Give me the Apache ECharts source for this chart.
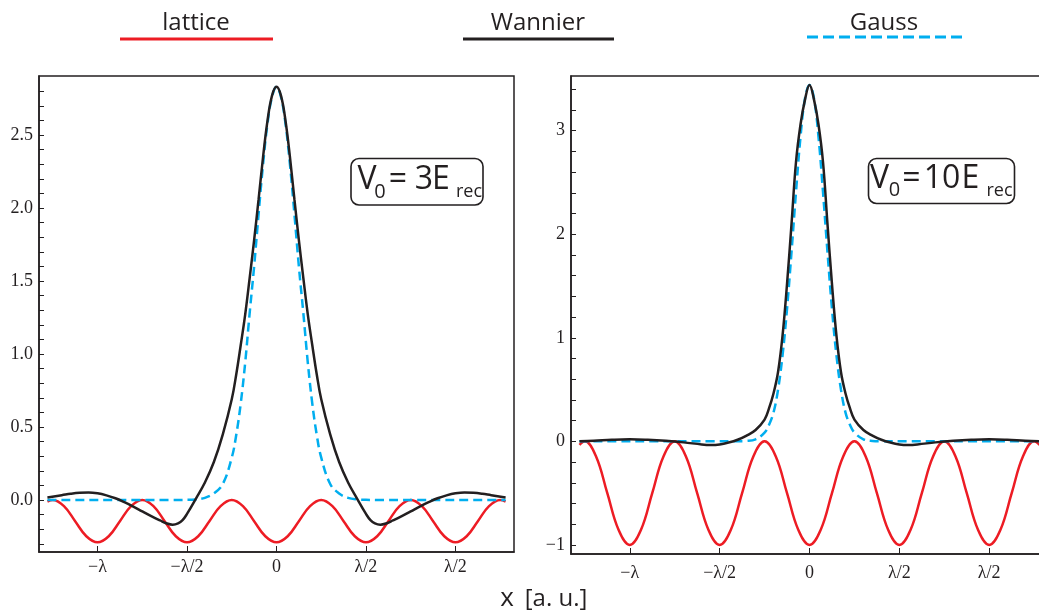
<!DOCTYPE html>
<html>
<head>
<meta charset="utf-8">
<script src="https://cdn.jsdelivr.net/npm/echarts@6/dist/echarts.min.js"></script>
<style>
  html, body { margin: 0; padding: 0; background: #ffffff; }
  #chart { width: 1039px; height: 616px; }
</style>
</head>
<body>
<div id="chart"></div>
<script>
// Position along the lattice, in units of the wavelength λ
const xTickValues = [-1, -0.5, 0, 0.5, 1];
const xTickLabels = ['−λ', '−λ/2', '0', 'λ/2', 'λ/2'];

// Left panel (V0 = 3 Erec) vertical axis
const leftYLabelValues = [0, 0.5, 1, 1.5, 2, 2.5];
const leftYTickValues = [-0.3, -0.2, -0.1, 0, 0.1, 0.2, 0.3, 0.4, 0.5, 0.6, 0.7, 0.8, 0.9, 1, 1.1, 1.2, 1.3, 1.4,
  1.5, 1.6, 1.7, 1.8, 1.9, 2, 2.1, 2.2, 2.3, 2.4, 2.5, 2.6, 2.7, 2.8];

// Right panel (V0 = 10 Erec) vertical axis
const rightYLabelValues = [-1, 0, 1, 2, 3];
const rightYTickValues = [-1, -0.8, -0.6, -0.4, -0.2, 0, 0.2, 0.4, 0.6, 0.8, 1, 1.2, 1.4, 1.6, 1.8, 2, 2.2, 2.4,
  2.6, 2.8, 3, 3.2, 3.4];

// Lattice potential (shared positions for both panels)
const latticeX = [-1.28, -1.25, -1.1875, -1.125, -1.0625, -1, -0.9375, -0.875, -0.8125, -0.75, -0.6875, -0.625,
  -0.5625, -0.5, -0.4375, -0.375, -0.3125, -0.25, -0.1875, -0.125, -0.0625, 0, 0.0625, 0.125, 0.1875, 0.25,
  0.3125, 0.375, 0.4375, 0.5, 0.5625, 0.625, 0.6875, 0.75, 0.8125, 0.875, 0.9375, 1, 1.0625, 1.125, 1.1875,
  1.25, 1.28];
const latticeLeft = [-0.010, 0, -0.042, -0.145, -0.248, -0.29, -0.248, -0.145, -0.042, 0, -0.042, -0.145, -0.248,
  -0.29, -0.248, -0.145, -0.042, 0, -0.042, -0.145, -0.248, -0.29, -0.248, -0.145, -0.042, 0, -0.042, -0.145,
  -0.248, -0.29, -0.248, -0.145, -0.042, 0, -0.042, -0.145, -0.248, -0.29, -0.248, -0.145, -0.042, 0, -0.010];
const latticeRight = [-0.035, 0, -0.146, -0.5, -0.854, -1, -0.854, -0.5, -0.146, 0, -0.146, -0.5, -0.854,
  -1, -0.854, -0.5, -0.146, 0, -0.146, -0.5, -0.854, -1, -0.854, -0.5, -0.146, 0, -0.146, -0.5,
  -0.854, -1, -0.854, -0.5, -0.146, 0, -0.146, -0.5, -0.854, -1, -0.854, -0.5, -0.146, 0, -0.035];

// Wannier function, V0 = 3 Erec
const wannierLeftX = [-1.28, -1.2, -1.15, -1.1, -1.05, -1, -0.95, -0.9, -0.85, -0.8, -0.75, -0.7, -0.65, -0.62,
  -0.58, -0.55, -0.525, -0.5, -0.45, -0.4, -0.35, -0.3, -0.25, -0.225, -0.2, -0.175, -0.15, -0.125, -0.1,
  -0.075, -0.05, -0.025, 0, 0.025, 0.05, 0.075, 0.1, 0.125, 0.15, 0.175, 0.2, 0.225, 0.25, 0.3, 0.35, 0.4,
  0.45, 0.5, 0.525, 0.55, 0.58, 0.62, 0.65, 0.7, 0.75, 0.8, 0.85, 0.9, 0.95, 1, 1.05, 1.1, 1.15, 1.2, 1.28];
const wannierLeft = [0.018, 0.033, 0.043, 0.050, 0.052, 0.046, 0.032, 0.012, -0.015, -0.045, -0.078, -0.110,
  -0.140, -0.157, -0.169, -0.160, -0.138, -0.095, 0.010, 0.12, 0.26, 0.45, 0.69, 0.86, 1.06, 1.27, 1.52, 1.78,
  2.06, 2.35, 2.60, 2.77, 2.83, 2.77, 2.60, 2.35, 2.06, 1.78, 1.52, 1.27, 1.06, 0.86, 0.69, 0.45, 0.26, 0.12,
  0.010, -0.095, -0.138, -0.160, -0.169, -0.157, -0.140, -0.110, -0.078, -0.045, -0.015, 0.012, 0.032, 0.046,
  0.052, 0.050, 0.043, 0.033, 0.018];

// Gaussian approximation, V0 = 3 Erec
const gaussLeftX = [-1.28, -0.5, -0.45, -0.4, -0.35, -0.3, -0.25, -0.225, -0.2, -0.175, -0.15, -0.125, -0.1,
  -0.075, -0.05, -0.025, 0, 0.025, 0.05, 0.075, 0.1, 0.125, 0.15, 0.175, 0.2, 0.225, 0.25, 0.3, 0.35, 0.4,
  0.45, 0.5, 1.28];
const gaussLeft = [0, 0.001, 0.004, 0.015, 0.045, 0.11, 0.29, 0.445, 0.66, 0.94, 1.28, 1.60, 1.96, 2.30, 2.58,
  2.76, 2.83, 2.76, 2.58, 2.30, 1.96, 1.60, 1.28, 0.94, 0.66, 0.445, 0.29, 0.11, 0.045, 0.015, 0.004, 0.001, 0];

// Wannier function, V0 = 10 Erec
const wannierRightX = [-1.28, -1.2, -1.1, -1, -0.9, -0.8, -0.7, -0.6, -0.55, -0.5, -0.45, -0.4, -0.35, -0.3,
  -0.25, -0.225, -0.2, -0.175, -0.15, -0.125, -0.1, -0.075, -0.05, -0.025, 0, 0.025, 0.05, 0.075, 0.1, 0.125,
  0.15, 0.175, 0.2, 0.225, 0.25, 0.3, 0.35, 0.4, 0.45, 0.5, 0.55, 0.6, 0.7, 0.8, 0.9, 1, 1.1, 1.2, 1.28];
const wannierRight = [0, 0.005, 0.015, 0.02, 0.015, 0.005, -0.01, -0.03, -0.035, -0.03, -0.012, 0.015, 0.055,
  0.11, 0.21, 0.32, 0.465, 0.67, 1.02, 1.52, 2.10, 2.70, 3.06, 3.30, 3.44, 3.30, 3.06, 2.70, 2.10, 1.52, 1.02,
  0.67, 0.465, 0.32, 0.21, 0.11, 0.055, 0.015, -0.012, -0.03, -0.035, -0.03, -0.01, 0.005, 0.015, 0.02, 0.015,
  0.005, 0];

// Gaussian approximation, V0 = 10 Erec
const gaussRightX = [-1.28, -0.45, -0.4, -0.35, -0.3, -0.25, -0.225, -0.2, -0.175, -0.15, -0.125, -0.1, -0.075,
  -0.05, -0.025, 0, 0.025, 0.05, 0.075, 0.1, 0.125, 0.15, 0.175, 0.2, 0.225, 0.25, 0.3, 0.35, 0.4, 0.45, 1.28];
const gaussRight = [0, 0, 0.001, 0.004, 0.02, 0.085, 0.16, 0.28, 0.50, 0.83, 1.28, 1.83, 2.41, 2.94, 3.31, 3.44,
  3.31, 2.94, 2.41, 1.83, 1.28, 0.83, 0.50, 0.28, 0.16, 0.085, 0.02, 0.004, 0.001, 0, 0];

const INK = '#231f20';
const RED = '#ed1c24';
const CYAN = '#00aeef';
const SERIF = '"Liberation Serif", "DejaVu Serif", serif';
const SANS = '"Open Sans", "Noto Sans", sans-serif';

const pairs = (xs, ys) => xs.map((x, i) => [x, ys[i]]);

const xLabel = v => {
  const i = xTickValues.findIndex(t => Math.abs(t - v) < 1e-9);
  return i >= 0 ? xTickLabels[i] : '';
};

function xAxisFor(gridIndex, labelMargin) {
  return {
    type: 'value', gridIndex, min: -1.327, max: 1.327,
    axisLine: { show: true, onZero: false, lineStyle: { color: INK, width: 1.5 } },
    axisTick: { show: true, inside: true, length: 6, customValues: xTickValues, lineStyle: { color: INK, width: 1 } },
    axisLabel: { customValues: xTickValues, formatter: xLabel, margin: labelMargin,
      fontFamily: SERIF, fontSize: 18, color: INK },
    splitLine: { show: false }
  };
}

function yAxisFor(gridIndex, min, max, labels, ticks, fmt) {
  return {
    type: 'value', gridIndex, min, max,
    axisLine: { show: true, onZero: false, lineStyle: { color: INK, width: 1.5 } },
    axisTick: { show: true, inside: true, length: 5, customValues: ticks, lineStyle: { color: INK, width: 1 } },
    axisLabel: { customValues: labels, formatter: fmt, margin: 6,
      fontFamily: SERIF, fontSize: 18, color: INK },
    splitLine: { show: false }
  };
}

function curve(name, xi, xs, ys, color, width, dash, z) {
  return {
    name, type: 'line', xAxisIndex: xi, yAxisIndex: xi,
    data: pairs(xs, ys), showSymbol: false, smooth: 0.4, silent: true, z,
    lineStyle: { color, width, type: dash ? [9, 5] : 'solid', cap: 'butt' }
  };
}

// Text helper for the legend and the panel annotations
function txt(text, x, y, size, align) {
  return { type: 'text', x, y, silent: true, z: 100,
    style: { text, fontFamily: SANS, fontSize: size, fill: INK, align: align || 'center', verticalAlign: 'middle' } };
}

function box(x, y, w, h) {
  return { type: 'rect', silent: true, z: 99, shape: { x, y, width: w, height: h, r: 8 },
    style: { fill: '#ffffff', stroke: INK, lineWidth: 1.6 } };
}

function legendLine(x1, x2, y, color, dash) {
  return { type: 'line', silent: true, z: 100, shape: { x1, y1: y, x2, y2: y },
    style: { stroke: color, lineWidth: 3, lineDash: dash || null } };
}

const chart = echarts.init(document.getElementById('chart'), null, { renderer: 'canvas' });

chart.setOption({
  animation: false,
  backgroundColor: '#ffffff',
  grid: [
    { left: 39, top: 76, width: 475, height: 476, show: true, borderColor: INK, borderWidth: 1.5,
      backgroundColor: 'transparent', outerBoundsMode: 'none' },
    { left: 571, top: 76, width: 477, height: 478, show: true, borderColor: INK, borderWidth: 1.5,
      backgroundColor: 'transparent', outerBoundsMode: 'none' }
  ],
  xAxis: [xAxisFor(0, 6), xAxisFor(1, 10)],
  yAxis: [
    yAxisFor(0, -0.356, 2.904, leftYLabelValues, leftYTickValues, v => Number(v).toFixed(1)),
    yAxisFor(1, -1.088, 3.528, rightYLabelValues, rightYTickValues, v => (v < 0 ? '−' + Math.abs(v) : String(v)))
  ],
  series: [
    curve('lattice', 0, latticeX, latticeLeft, RED, 2.5, false, 2),
    curve('Gauss', 0, gaussLeftX, gaussLeft, CYAN, 2.5, true, 3),
    curve('Wannier', 0, wannierLeftX, wannierLeft, INK, 2.5, false, 4),
    curve('lattice', 1, latticeX, latticeRight, RED, 2.5, false, 2),
    curve('Gauss', 1, gaussRightX, gaussRight, CYAN, 2.5, true, 3),
    curve('Wannier', 1, wannierRightX, wannierRight, INK, 2.5, false, 4)
  ],
  graphic: { elements: [
    // legend across the top
    txt('lattice', 196, 23, 24),
    legendLine(120, 273, 39, RED),
    txt('Wannier', 538, 23, 24),
    legendLine(463, 614, 39, INK),
    txt('Gauss', 884, 23, 24),
    legendLine(807, 962, 37, CYAN, [11, 5]),

    // V0 = 3 Erec
    box(351, 158.5, 132, 46.5),
    txt('V', 367, 180, 32),
    txt('0', 380, 192, 20),
    txt('=', 398, 180, 32),
    txt('3', 424, 180, 32),
    txt('E', 441, 180, 32),
    txt('rec', 469, 192, 18),

    // V0 = 10 Erec
    box(868.5, 158.5, 146, 45),
    txt('V', 879.5, 178.5, 32),
    txt('0', 894.5, 190.5, 20),
    txt('=', 911.5, 178.5, 32),
    txt('10', 942, 178.5, 32),
    txt('E', 970.5, 178.5, 32),
    txt('rec', 999.5, 190.5, 18),

    // shared horizontal axis title
    txt('x', 507, 599, 26),
    txt('[a. u.]', 556, 599, 24)
  ] }
});
</script>
</body>
</html>
